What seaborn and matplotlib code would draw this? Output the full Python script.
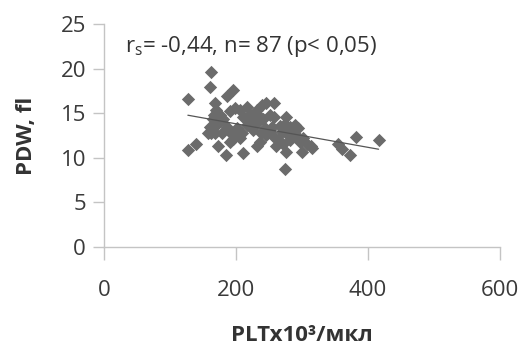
import numpy as np
import pandas as pd
import seaborn as sns
import matplotlib.pyplot as plt

# PLT x10^3 / мкл vs PDW, fl
plt_vals = [127, 127, 140, 162, 160, 162, 166, 186, 196, 173, 185, 191, 211, 231,
            246, 257, 274, 276, 354, 360, 373, 382, 416, 300, 313,
            168, 170, 175, 165, 173, 180, 191, 198, 206, 216, 211, 221, 228, 236,
            226, 201, 196, 206, 209, 216, 224, 231, 241, 251, 258, 244, 251, 256,
            264, 246, 238, 267, 274, 282, 289, 286, 276, 282, 292, 297, 302, 307,
            294, 269, 271, 261, 236, 186, 191, 178, 168, 158, 161, 170, 226, 213,
            254, 196, 315, 240, 231, 166, 276]
pdw_vals = [16.6, 10.9, 11.6, 19.6, 17.9, 12.8, 13.5, 16.9, 17.6, 11.3, 10.3, 11.8, 10.5, 11.3,
            16.1, 16.1, 8.8, 10.7, 11.5, 11.0, 10.3, 12.3, 12.0, 10.7, 11.3,
            16.1, 15.4, 14.8, 14.3, 13.9, 14.4, 15.2, 15.6, 15.4, 15.7, 14.6, 14.8, 14.8, 14.6,
            14.3, 13.3, 12.6, 12.2, 12.8, 13.7, 13.9, 13.9, 14.3, 14.8, 14.6, 13.3, 12.9, 12.4,
            12.0, 12.6, 12.8, 13.6, 13.8, 13.5, 13.7, 12.9, 12.8, 12.0, 12.4, 11.8, 12.2, 11.6,
            13.3, 12.9, 11.6, 11.3, 11.8, 13.5, 12.9, 12.8, 12.8, 12.8, 13.4, 13.7, 13.1, 14.5,
            13.4, 12.1, 11.1, 15.9, 15.4, 14.8, 14.6]

x_ticks = [0, 200, 400, 600]
y_ticks = [0, 5, 10, 15, 20, 25]

df = pd.DataFrame({'plt': plt_vals, 'pdw': pdw_vals})

sns.set_style('white')
plt.rcParams['font.family'] = ['Open Sans', 'DejaVu Sans']

fig = plt.figure(figsize=(5.23, 3.47), dpi=100)
ax = fig.add_axes([0.199, 0.288, 0.757, 0.643])

sns.regplot(
    data=df, x='plt', y='pdw', ci=None, ax=ax,
    marker='D', color='#6b6b6b',
    scatter_kws={'s': 46, 'linewidths': 0, 'alpha': 1},
    line_kws={'color': '#555555', 'linewidth': 0.9},
)

ax.set_xlim(0, 600)
ax.set_ylim(0, 25)
ax.set_xticks(x_ticks)
ax.set_yticks(y_ticks)

for side in ['top', 'right']:
    ax.spines[side].set_visible(False)
for side in ['left', 'bottom']:
    ax.spines[side].set_color('#c4c4c4')
    ax.spines[side].set_linewidth(1.0)

ax.tick_params(axis='x', direction='out', length=9, width=1, color='#c4c4c4',
               pad=15, labelsize=16, labelcolor='#3a3a3a')
ax.tick_params(axis='y', direction='out', length=8, width=1, color='#c4c4c4',
               pad=5, labelsize=16, labelcolor='#3a3a3a')
ax.tick_params(bottom=True, left=True)

ax.set_xlabel('PLTx10³/мкл', fontsize=16, fontweight='bold', color='#333333', labelpad=17)
ax.set_ylabel('PDW, fl', fontsize=16, fontweight='bold', color='#333333', labelpad=17)

ax.text(0.053, 0.955, r'r$_\mathregular{s}$= -0,44, n= 87 (p< 0,05)',
        transform=ax.transAxes, fontsize=16, color='#333333', va='top', ha='left')

fig.savefig('out.png', dpi=100, facecolor='white')
